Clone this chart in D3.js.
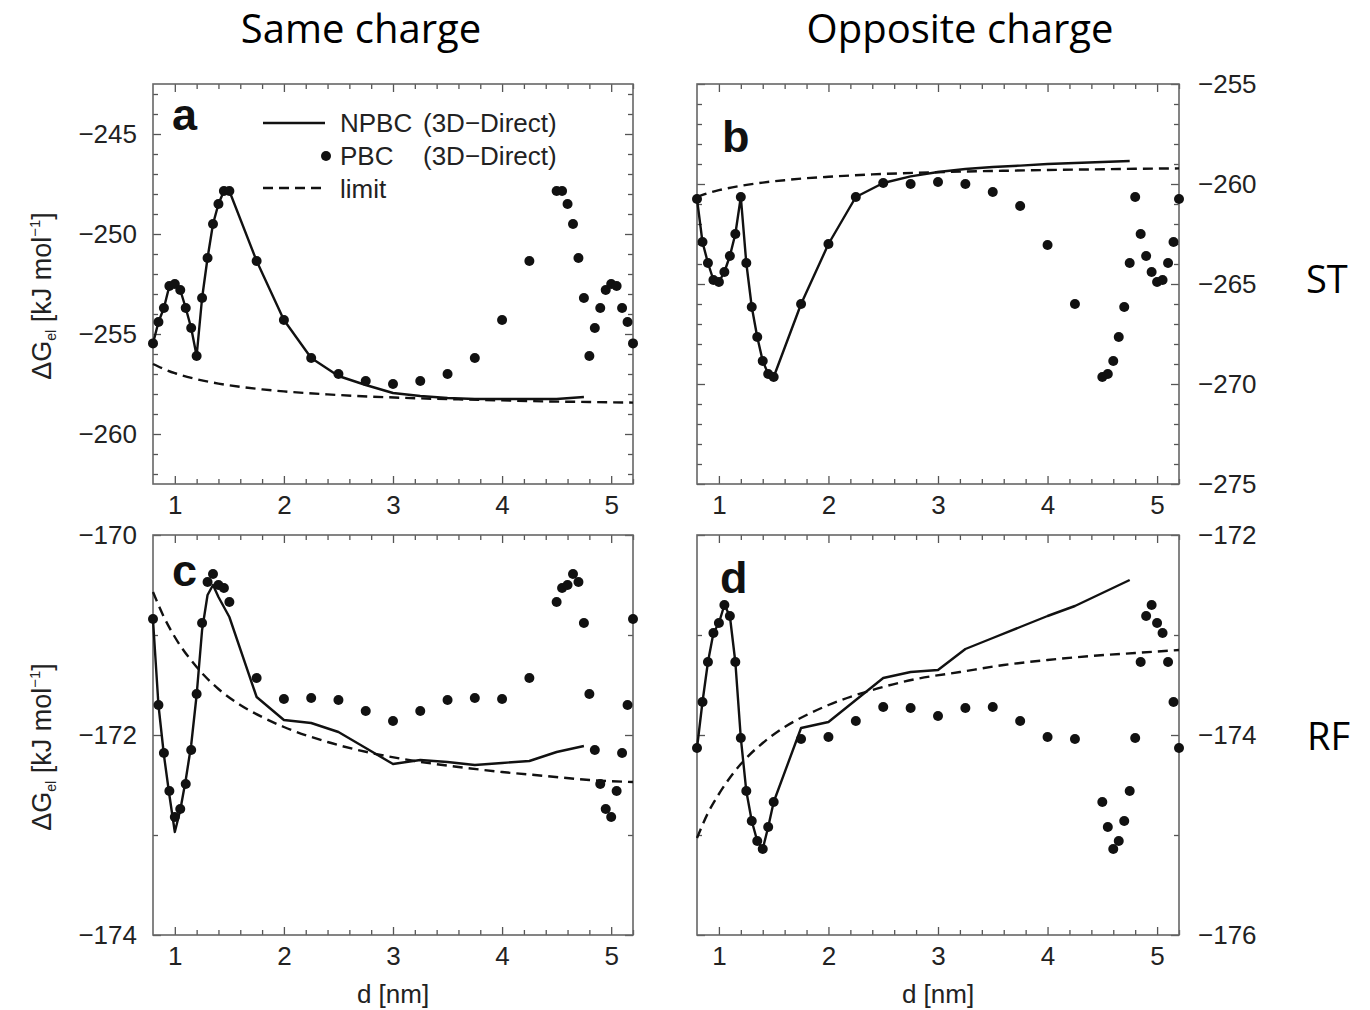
<!DOCTYPE html>
<html>
<head>
<meta charset="utf-8">
<script src="https://d3js.org/d3.v7.min.js"></script>
<style>
  body { margin: 0; background: #fff; }
  svg { display: block; }
</style>
</head>
<body>
<svg id="chart" width="1370" height="1010"></svg>
<script>

// ******************* Data ********************************* //
// distances d [nm] for the PBC points, the NPBC curve and the limit curve
var dotD = [0.8, 0.85, 0.9, 0.95, 1.0, 1.05, 1.1, 1.15, 1.2, 1.25, 1.3, 1.35, 1.4, 1.45, 1.5,
            1.75, 2.0, 2.25, 2.5, 2.75, 3.0, 3.25, 3.5, 3.75, 4.0, 4.25,
            4.5, 4.55, 4.6, 4.65, 4.7, 4.75, 4.8, 4.85, 4.9, 4.95, 5.0, 5.05, 5.1, 5.15, 5.2];
var npbcD = [0.8, 0.85, 0.9, 0.95, 1.0, 1.05, 1.1, 1.15, 1.2, 1.25, 1.3, 1.35, 1.4, 1.45, 1.5,
             1.75, 2.0, 2.25, 2.5, 2.75, 3.0, 3.25, 3.5, 3.75, 4.0, 4.25, 4.5, 4.75];
var limitD = [0.8, 0.9, 1.0, 1.2, 1.4, 1.6, 1.8, 2.0, 2.4, 2.8, 3.2, 3.6, 4.0, 4.4, 4.8, 5.2];

// (a) same charge, ST
var pbcA = [-255.47, -254.4, -253.7, -252.6, -252.5, -252.8, -253.7, -254.7, -256.1, -253.2, -251.2, -249.5, -248.5, -247.85, -247.85,
            -251.35, -254.3, -256.2, -257.0, -257.35, -257.5, -257.35, -257.0, -256.2, -254.3, -251.35,
            -247.85, -247.85, -248.5, -249.5, -251.2, -253.2, -256.1, -254.7, -253.7, -252.8, -252.5, -252.6, -253.7, -254.4, -255.47];
var npbcA = [-255.47, -254.4, -253.7, -252.6, -252.5, -252.8, -253.7, -254.7, -256.1, -253.2, -251.2, -249.5, -248.5, -247.85, -247.85,
             -251.35, -254.3, -256.2, -257.1, -257.55, -257.95, -258.1, -258.2, -258.25, -258.25, -258.25, -258.25, -258.15];
var limitA = [-256.5, -256.75, -256.96, -257.26, -257.48, -257.64, -257.77, -257.87, -258.02, -258.13, -258.21, -258.27, -258.32, -258.37, -258.4, -258.43];

// (b) opposite charge, ST
var pbcB = [-260.75, -262.9, -263.95, -264.8, -264.9, -264.4, -263.6, -262.5, -260.65, -263.95, -266.15, -267.65, -268.85, -269.5, -269.65,
            -266.0, -263.0, -260.65, -259.95, -260.0, -259.9, -260.0, -260.4, -261.1, -263.05, -266.0,
            -269.65, -269.5, -268.85, -267.65, -266.15, -263.95, -260.65, -262.5, -263.6, -264.4, -264.9, -264.8, -263.95, -262.9, -260.75];
var npbcB = [-260.75, -262.9, -263.95, -264.8, -264.9, -264.4, -263.6, -262.5, -260.65, -263.95, -266.15, -267.65, -268.85, -269.5, -269.65,
             -266.0, -263.0, -260.65, -259.95, -259.62, -259.4, -259.25, -259.15, -259.08, -259.0, -258.95, -258.9, -258.85];
var limitB = [-260.65, -260.46, -260.31, -260.09, -259.93, -259.81, -259.71, -259.64, -259.52, -259.44, -259.38, -259.34, -259.3, -259.27, -259.24, -259.22];

// (c) same charge, RF
var pbcC = [-170.84, -171.7, -172.18, -172.56, -172.82, -172.74, -172.49, -172.15, -171.59, -170.88, -170.47, -170.39, -170.5, -170.53, -170.67,
            -171.43, -171.64, -171.63, -171.65, -171.76, -171.86, -171.76, -171.65, -171.63, -171.64, -171.43,
            -170.67, -170.53, -170.5, -170.39, -170.47, -170.88, -171.59, -172.15, -172.49, -172.74, -172.82, -172.56, -172.18, -171.7, -170.84];
var npbcC = [-170.85, -171.7, -172.2, -172.6, -172.97, -172.75, -172.45, -172.1, -171.6, -170.95, -170.6, -170.5, -170.62, -170.72, -170.82,
             -171.62, -171.85, -171.88, -171.97, -172.13, -172.29, -172.25, -172.27, -172.3, -172.28, -172.26, -172.17, -172.11];
var limitC = [-170.57, -170.82, -171.02, -171.32, -171.54, -171.7, -171.82, -171.92, -172.07, -172.18, -172.26, -172.32, -172.37, -172.41, -172.45, -172.47];

// (d) opposite charge, RF
var pbcDd = [-174.13, -173.67, -173.27, -172.98, -172.88, -172.7, -172.81, -173.27, -174.03, -174.56, -174.86, -175.06, -175.14, -174.92, -174.67,
             -174.04, -174.02, -173.86, -173.72, -173.73, -173.81, -173.73, -173.72, -173.86, -174.02, -174.04,
             -174.67, -174.92, -175.14, -175.06, -174.86, -174.56, -174.03, -173.27, -172.81, -172.7, -172.88, -172.98, -173.27, -173.67, -174.13];
var npbcDd = [-174.13, -173.67, -173.27, -172.98, -172.88, -172.7, -172.81, -173.27, -174.03, -174.56, -174.86, -175.06, -175.14, -174.92, -174.67,
              -173.93, -173.87, -173.65, -173.43, -173.37, -173.35, -173.14, -173.03, -172.92, -172.81, -172.71, -172.58, -172.45];
var limitDd = [-175.03, -174.78, -174.59, -174.29, -174.08, -173.92, -173.8, -173.7, -173.55, -173.44, -173.37, -173.3, -173.25, -173.21, -173.18, -173.15];

// tick labels
var xTickVals = [1, 2, 3, 4, 5];
var yTicksA = [-245, -250, -255, -260];
var yTicksB = [-255, -260, -265, -270, -275];
var yTicksC = [-170, -172, -174];
var yTicksD = [-172, -174, -176];

var legendLabels = ["NPBC", "PBC", "limit"];


// ******************* Layout ********************************* //
var svg = d3.select("#chart");
var font = "'Liberation Sans', Arial, Helvetica, sans-serif";
var ink = "#111";
var dotR = 5;

var panels = [
  { letter: "a", x0: 153, x1: 633, y0: 84,  y1: 484, yDomain: [-262.5, -242.5], yTicks: yTicksA, side: "left",
    pbc: pbcA, npbc: npbcA, limit: limitA, lx: 172, ly: 130 },
  { letter: "b", x0: 697, x1: 1179, y0: 84, y1: 484, yDomain: [-275, -255], yTicks: yTicksB, side: "right",
    pbc: pbcB, npbc: npbcB, limit: limitB, lx: 722, ly: 152 },
  { letter: "c", x0: 153, x1: 633, y0: 535, y1: 935, yDomain: [-174, -170], yTicks: yTicksC, side: "left",
    pbc: pbcC, npbc: npbcC, limit: limitC, lx: 172, ly: 586 },
  { letter: "d", x0: 697, x1: 1179, y0: 535, y1: 935, yDomain: [-176, -172], yTicks: yTicksD, side: "right",
    pbc: pbcDd, npbc: npbcDd, limit: limitDd, lx: 720, ly: 593 }
];

// minor x ticks every 0.2 nm
var xMinor = d3.range(6, 27).filter(i => i % 5 !== 0).map(i => i / 5);

function styleAxis(sel) {
  sel.select(".domain").remove();
  sel.selectAll("line").attr("stroke", "#555").attr("stroke-width", 1.3);
  sel.selectAll("text")
    .attr("fill", "#222")
    .style("font-family", font)
    .style("font-size", "26px");
}

panels.forEach(function(p) {

  var x = d3.scaleLinear().domain([0.8, 5.2]).range([p.x0, p.x1]);
  var y = d3.scaleLinear().domain(p.yDomain).range([p.y1, p.y0]);
  var g = svg.append("g");

  var yMinor = d3.range(Math.ceil(p.yDomain[0]), p.yDomain[1] + 0.001, 1)
                 .filter(v => p.yTicks.indexOf(v) < 0);

  // ---- x ticks (bottom labelled, top plain), all pointing inside
  g.append("g")
    .attr("transform", "translate(0," + p.y1 + ")")
    .call(d3.axisBottom(x).tickValues(xTickVals).tickSize(-8).tickPadding(12).tickFormat(d3.format("d")))
    .call(styleAxis);
  g.append("g")
    .attr("transform", "translate(0," + p.y1 + ")")
    .call(d3.axisBottom(x).tickValues(xMinor).tickSize(-5).tickFormat(""))
    .call(styleAxis);
  g.append("g")
    .attr("transform", "translate(0," + p.y0 + ")")
    .call(d3.axisTop(x).tickValues(xTickVals).tickSize(-8).tickFormat(""))
    .call(styleAxis);
  g.append("g")
    .attr("transform", "translate(0," + p.y0 + ")")
    .call(d3.axisTop(x).tickValues(xMinor).tickSize(-5).tickFormat(""))
    .call(styleAxis);

  // ---- y ticks, labels on the outer side
  var labelAxis = p.side === "left" ? d3.axisLeft(y).tickPadding(16) : d3.axisRight(y).tickPadding(19);
  var plainAxis = p.side === "left" ? d3.axisRight(y) : d3.axisLeft(y);
  var labelX = p.side === "left" ? p.x0 : p.x1;
  var plainX = p.side === "left" ? p.x1 : p.x0;

  g.append("g")
    .attr("transform", "translate(" + labelX + ",0)")
    .call(labelAxis.tickValues(p.yTicks).tickSize(-8).tickFormat(d3.format("d")))
    .call(styleAxis);
  g.append("g")
    .attr("transform", "translate(" + labelX + ",0)")
    .call((p.side === "left" ? d3.axisLeft(y) : d3.axisRight(y)).tickValues(yMinor).tickSize(-5).tickFormat(""))
    .call(styleAxis);
  g.append("g")
    .attr("transform", "translate(" + plainX + ",0)")
    .call(plainAxis.tickValues(p.yTicks).tickSize(-8).tickFormat(""))
    .call(styleAxis);
  g.append("g")
    .attr("transform", "translate(" + plainX + ",0)")
    .call((p.side === "left" ? d3.axisRight(y) : d3.axisLeft(y)).tickValues(yMinor).tickSize(-5).tickFormat(""))
    .call(styleAxis);

  // frame
  g.append("rect")
    .attr("x", p.x0).attr("y", p.y0)
    .attr("width", p.x1 - p.x0).attr("height", p.y1 - p.y0)
    .attr("fill", "none").attr("stroke", "#666").attr("stroke-width", 1.6);

  // ---- limit (dashed)
  var limitLine = d3.line()
    .x((d, i) => x(limitD[i]))
    .y(d => y(d))
    .curve(d3.curveMonotoneX);
  g.append("path")
    .datum(p.limit)
    .attr("d", limitLine)
    .attr("fill", "none").attr("stroke", ink)
    .attr("stroke-width", 2.4).attr("stroke-dasharray", "10,6");

  // ---- NPBC (solid)
  var npbcLine = d3.line()
    .x((d, i) => x(npbcD[i]))
    .y(d => y(d));
  g.append("path")
    .datum(p.npbc)
    .attr("d", npbcLine)
    .attr("fill", "none").attr("stroke", ink)
    .attr("stroke-width", 2.4).attr("stroke-linejoin", "round");

  // ---- PBC (dots)
  g.selectAll(".dot")
    .data(p.pbc)
    .enter()
    .append("circle")
      .classed("dot", true)
      .attr("cx", (d, i) => x(dotD[i]))
      .attr("cy", d => y(d))
      .attr("r", dotR)
      .attr("fill", ink);

  // panel letter
  g.append("text")
    .attr("x", p.lx).attr("y", p.ly)
    .style("font-family", font).style("font-weight", "bold").style("font-size", "45px")
    .attr("fill", ink)
    .text(p.letter);

  // x title
  if (p.y0 > 500) {
    g.append("text")
      .attr("x", (p.x0 + p.x1) / 2).attr("y", 1003)
      .attr("text-anchor", "middle")
      .style("font-family", font).style("font-size", "26px").attr("fill", "#222")
      .text("d [nm]");
  }

  // y title on the left panels
  if (p.side === "left") {
    var yt = g.append("text")
      .attr("transform", "translate(51," + ((p.y0 + p.y1) / 2 + 12) + ") rotate(-90)")
      .attr("text-anchor", "middle")
      .style("font-family", font).style("font-size", "27px").attr("fill", "#222");
    yt.append("tspan").text("ΔG");
    yt.append("tspan").attr("dy", 5).style("font-size", "14px").text("el");
    yt.append("tspan").attr("dy", -5).text(" [kJ mol");
    yt.append("tspan").attr("dy", -11).style("font-size", "15px").text("−1");
    yt.append("tspan").attr("dy", 11).text("]");
  }
});

// ---- legend in panel a
var lg = svg.append("g").style("font-family", font).style("font-size", "26px");
lg.append("line").attr("x1", 263).attr("x2", 325).attr("y1", 123).attr("y2", 123)
  .attr("stroke", ink).attr("stroke-width", 2.4);
lg.append("circle").attr("cx", 326).attr("cy", 156).attr("r", dotR).attr("fill", ink);
lg.append("line").attr("x1", 263).attr("x2", 325).attr("y1", 188).attr("y2", 188)
  .attr("stroke", ink).attr("stroke-width", 2.4).attr("stroke-dasharray", "10,6");
[132, 165, 198].forEach(function(yy, i) {
  lg.append("text").attr("x", 340).attr("y", yy).attr("fill", "#222").text(legendLabels[i]);
  if (i < 2) lg.append("text").attr("x", 423).attr("y", yy).attr("fill", "#222").text("(3D−Direct)");
});

// ---- column and row headers
var headFont = "'Open Sans', 'Noto Sans', sans-serif";
svg.append("text").attr("x", 361).attr("y", 43).attr("text-anchor", "middle")
  .style("font-family", headFont).style("font-size", "40px").attr("fill", "#000").text("Same charge");
svg.append("text").attr("x", 960).attr("y", 43).attr("text-anchor", "middle")
  .style("font-family", headFont).style("font-size", "40px").attr("fill", "#000").text("Opposite charge");
svg.append("text").attr("x", 1306).attr("y", 293)
  .style("font-family", headFont).style("font-size", "38px").attr("fill", "#000").text("ST");
svg.append("text").attr("x", 1307).attr("y", 750)
  .style("font-family", headFont).style("font-size", "38px").attr("fill", "#000").text("RF");

</script>
</body>
</html>
